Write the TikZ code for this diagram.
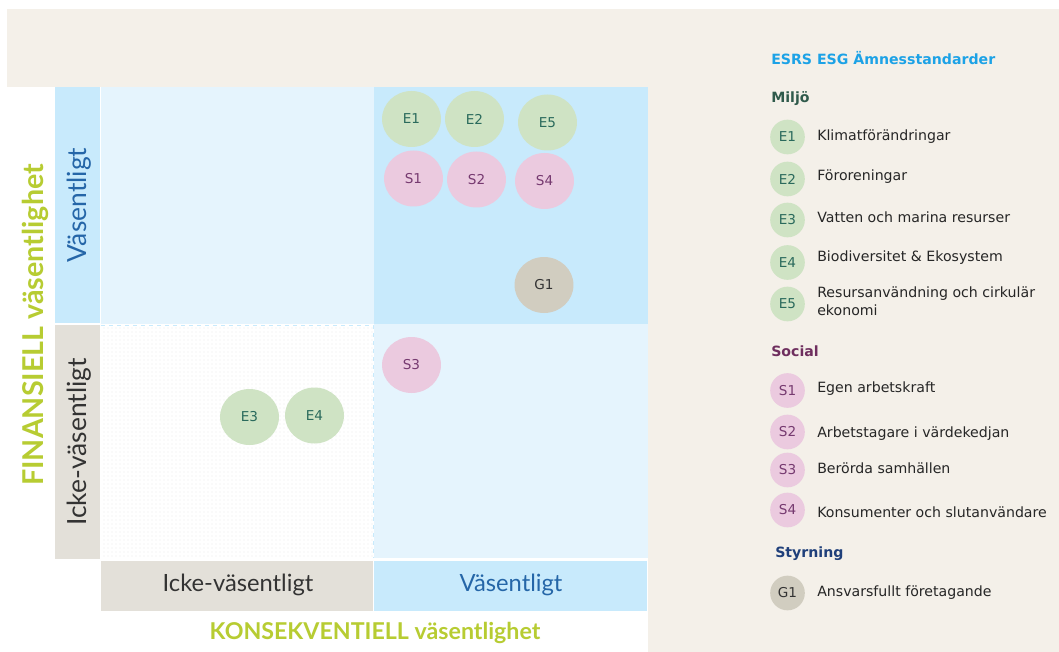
\documentclass[tikz,border=0pt]{standalone}
\usepackage{fontspec}
\setmainfont{DejaVu Sans}
\newfontfamily\axisfont{Lato}
\usepackage{tikz}
\usetikzlibrary{shapes.geometric,patterns}

\definecolor{beige}{HTML}{F4F0E9}
\definecolor{lblue}{HTML}{C8EAFC}
\definecolor{vlblue}{HTML}{E5F4FD}
\definecolor{greybar}{HTML}{E3E0D9}
\definecolor{axisgreen}{HTML}{B7CC32}
\definecolor{axisblue}{HTML}{2566A8}
\definecolor{fillE}{HTML}{CFE3C4}
\definecolor{fillS}{HTML}{EBCADF}
\definecolor{fillG}{HTML}{D1CDC0}
\definecolor{txtE}{HTML}{2A6A5C}
\definecolor{txtS}{HTML}{763A70}
\definecolor{txtG}{HTML}{333333}
\definecolor{headblue}{HTML}{1CA2E6}
\definecolor{headE}{HTML}{2F5A4B}
\definecolor{headS}{HTML}{6E2E5E}
\definecolor{headG}{HTML}{1F3F7A}

\tikzset{
  bub/.style={ellipse,minimum width=44.2pt,minimum height=42pt,inner sep=0pt,font=\fontsize{10.2}{12}\selectfont},
  bubE/.style={bub,fill=fillE,text=txtE},
  bubS/.style={bub,fill=fillS,text=txtS},
  bubG/.style={bub,fill=fillG,text=txtG},
  leg/.style={circle,minimum size=26pt,inner sep=0pt,font=\fontsize{10.2}{12}\selectfont},
  legE/.style={leg,fill=fillE,text=txtE},
  legS/.style={leg,fill=fillS,text=txtS},
  legG/.style={leg,fill=fillG,text=txtG},
  legtxt/.style={anchor=west,inner sep=0pt,align=left,text=black!85,font=\fontsize{10.6}{13.5}\selectfont},
  leghead/.style={anchor=west,inner sep=0pt,font=\fontsize{10.6}{12}\selectfont\bfseries},
  ylab/.style={rotate=90,font=\axisfont\fontsize{19.8}{22}\selectfont},
  xlab/.style={font=\axisfont\fontsize{17.8}{20}\selectfont},
}

\begin{document}
\begin{tikzpicture}[x=0.75pt,y=-0.75pt]
\useasboundingbox (0,0) rectangle (1059,652);
\fill[white] (0,0) rectangle (1059,652);
\fill[beige] (7,9) rectangle (1059,87);
\fill[beige] (648,87) rectangle (1059,652);

% quadrants
\fill[vlblue] (101,87) rectangle (374,324);
\fill[lblue] (374,87) rectangle (648,324);
\fill[vlblue] (374,324) rectangle (648,558);
\fill[white] (101,325) rectangle (373,558);
\fill[pattern=dots,pattern color=black!8] (101,325) rectangle (373,558);
\draw[lblue,dashed] (101,325) -- (373,325) -- (373,558);

% axis bars
\fill[lblue] (55,87) rectangle (100,323);
\fill[greybar] (55,325) rectangle (100,559);
\fill[greybar] (101,561) rectangle (373,611);
\fill[lblue] (374,561) rectangle (647,611);
\node[ylab,text=axisblue] (yhi) at (79,205) {Väsentligt};
\node[ylab,text=black!80] (ylo) at (79,442) {Icke-väsentligt};
\node[xlab,text=black!80] (xlo) at (238,585) {Icke-väsentligt};
\node[xlab,text=axisblue] (xhi) at (511,585) {Väsentligt};
\node[rotate=90,text=axisgreen,font=\axisfont\bfseries\fontsize{21.5}{24}\selectfont] (ytitle) at (35,325) {FINANSIELL väsentlighet};
\node[text=axisgreen,font=\axisfont\bfseries\fontsize{17.4}{20}\selectfont] (xtitle) at (375,633) {KONSEKVENTIELL väsentlighet};

% bubbles
\node[bubE] (e1) at (411.5,119) {E1};
\node[bubE] (e2) at (474.5,119) {E2};
\node[bubE] (e5) at (547.5,122.5) {E5};
\node[bubS] (s1) at (413.5,178.5) {S1};
\node[bubS] (s2) at (476.5,179.5) {S2};
\node[bubS] (s4) at (544.5,181) {S4};
\node[bubG] (g1) at (544,285) {G1};
\node[bubS] (s3) at (411.5,365) {S3};
\node[bubE] (e3) at (249.5,417) {E3};
\node[bubE] (e4) at (314.5,415.5) {E4};

% legend
\node[leghead,text=headblue] (legtitle) at (771,58) {ESRS ESG Ämnesstandarder};
\node[leghead,text=headE] (hmiljo) at (771,99) {Miljö};
\node[legE] (le1) at (787.5,137) {E1};
\node[legtxt] (te1) at (817,137) {Klimatförändringar};
\node[legE] (le2) at (787.5,179) {E2};
\node[legtxt] (te2) at (817,177) {Föroreningar};
\node[legE] (le3) at (787.5,220) {E3};
\node[legtxt] (te3) at (817,217) {Vatten och marina resurser};
\node[legE] (le4) at (787.5,262.5) {E4};
\node[legtxt] (te4) at (817,258) {Biodiversitet \& Ekosystem};
\node[legE] (le5) at (787.5,304) {E5};
\node[legtxt] (te5) at (817,301) {Resursanvändning och cirkulär\\ekonomi};
\node[leghead,text=headS] (hsocial) at (771,351) {Social};
\node[legS] (ls1) at (787.5,390.5) {S1};
\node[legtxt] (ts1) at (817,389) {Egen arbetskraft};
\node[legS] (ls2) at (787.5,432) {S2};
\node[legtxt] (ts2) at (817,434) {Arbetstagare i värdekedjan};
\node[legS] (ls3) at (787.5,470) {S3};
\node[legtxt] (ts3) at (817,468) {Berörda samhällen};
\node[legS] (ls4) at (787.5,510) {S4};
\node[legtxt] (ts4) at (817,512) {Konsumenter och slutanvändare};
\node[leghead,text=headG] (hstyr) at (775,554) {Styrning};
\node[legG] (lg1) at (787.5,593) {G1};
\node[legtxt] (tg1) at (817,593) {Ansvarsfullt företagande};
\end{tikzpicture}
\end{document}
